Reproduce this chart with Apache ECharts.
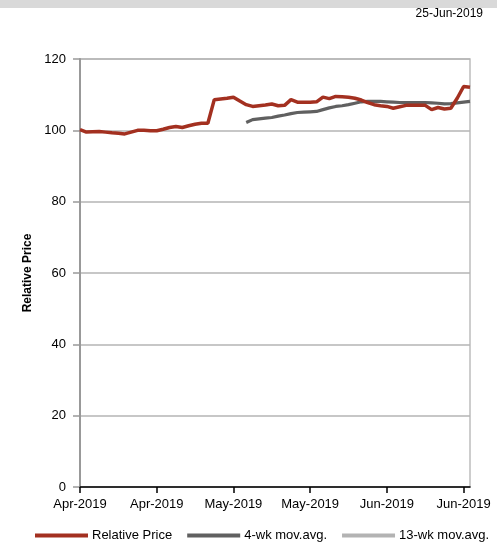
<!DOCTYPE html>
<html>
<head>
<meta charset="utf-8">
<script src="https://cdn.jsdelivr.net/npm/echarts@6/dist/echarts.min.js"></script>
<style>html,body{margin:0;padding:0;background:#fff;}#c{width:497px;height:550px;}</style>
</head>
<body>
<div id="c"></div>
<script>
var dates = [
"01-Apr-2019","02-Apr-2019","03-Apr-2019","04-Apr-2019","05-Apr-2019",
"08-Apr-2019","09-Apr-2019","10-Apr-2019","11-Apr-2019","12-Apr-2019",
"15-Apr-2019","16-Apr-2019","17-Apr-2019","18-Apr-2019","19-Apr-2019",
"22-Apr-2019","23-Apr-2019","24-Apr-2019","25-Apr-2019","26-Apr-2019",
"29-Apr-2019","30-Apr-2019","01-May-2019","02-May-2019","03-May-2019",
"06-May-2019","07-May-2019","08-May-2019","09-May-2019","10-May-2019",
"13-May-2019","14-May-2019","15-May-2019","16-May-2019","17-May-2019",
"20-May-2019","21-May-2019","22-May-2019","23-May-2019","24-May-2019",
"27-May-2019","28-May-2019","29-May-2019","30-May-2019","31-May-2019",
"03-Jun-2019","04-Jun-2019","05-Jun-2019","06-Jun-2019","07-Jun-2019",
"10-Jun-2019","11-Jun-2019","12-Jun-2019","13-Jun-2019","14-Jun-2019",
"17-Jun-2019","18-Jun-2019","19-Jun-2019","20-Jun-2019","21-Jun-2019",
"24-Jun-2019","25-Jun-2019"
];
var relativePrice = [
100.2,99.5,99.6,99.7,99.5,99.3,99.2,99.0,99.5,100.0,
100.0,99.9,99.9,100.3,100.8,101.1,100.8,101.3,101.7,102.0,
102.0,108.6,108.8,109.0,109.3,108.2,107.2,106.7,106.9,107.1,
107.4,106.9,107.0,108.6,107.9,107.9,107.9,108.0,109.3,108.9,
109.5,109.4,109.3,109.0,108.5,107.8,107.2,106.9,106.7,106.2,
106.6,107.0,107.0,107.0,107.0,105.8,106.4,106.0,106.2,109.0,
112.3,112.1
];
var ma4wk = [
null,null,null,null,null,null,null,null,null,null,
null,null,null,null,null,null,null,null,null,null,
null,null,null,null,null,null,102.2,103.0,103.2,103.4,
103.6,104.0,104.3,104.7,105.0,105.1,105.2,105.3,105.8,106.3,
106.7,106.9,107.2,107.6,108.0,108.1,108.1,108.1,108.0,107.9,
107.8,107.8,107.8,107.8,107.8,107.7,107.6,107.4,107.5,107.7,
107.9,108.1
];
var ma13wk = [];
var yTicks = {min:0, max:120, interval:20};
var dateLabel = "25-Jun-2019";

var chart = echarts.init(document.getElementById('c'), null, {renderer:'canvas'});
var font = "'Liberation Sans', Arial, sans-serif";
chart.setOption({
  animation:false,
  backgroundColor:'#fff',
  textStyle:{fontFamily:font},
  graphic:[
    {type:'rect', left:0, top:0, shape:{width:497, height:8}, style:{fill:'#d9d9d9'}},
    {type:'text', right:14, top:8, style:{text:dateLabel, fontSize:12, fill:'#000', fontFamily:font}}
  ],
  grid:{left:80, right:27, top:59, bottom:63, show:true, borderColor:'#bdbdbd', borderWidth:1.5},
  legend:{
    bottom:3, left:30, itemWidth:53, itemHeight:4, itemGap:15,
    icon:'rect',
    textStyle:{fontSize:13, color:'#000', fontFamily:font, padding:[0,0,0,-1]},
    data:['Relative Price','4-wk mov.avg.','13-wk mov.avg.']
  },
  xAxis:{
    type:'category', data:dates, boundaryGap:false,
    axisLine:{lineStyle:{color:'#000', width:1.5}},
    axisTick:{show:true, interval:11, length:6, inside:false, lineStyle:{color:'#000', width:1.5}},
    axisLabel:{interval:11, fontSize:13, color:'#000', margin:11, fontFamily:font,
      formatter:function(v){return v.substring(3);}},
    splitLine:{show:false}
  },
  yAxis:{
    type:'value', min:yTicks.min, max:yTicks.max, interval:yTicks.interval,
    name:'Relative Price', nameLocation:'middle', nameGap:46, nameRotate:90,
    nameTextStyle:{fontSize:12, fontWeight:'bold', color:'#000', fontFamily:font},
    axisLine:{show:true, lineStyle:{color:'#999', width:2}},
    axisTick:{show:true, length:7, lineStyle:{color:'#999', width:1.5}},
    axisLabel:{fontSize:13, color:'#000', margin:14, fontFamily:font},
    splitLine:{show:true, lineStyle:{color:'#b4b4b4', width:1.5}}
  },
  series:[
    {name:'Relative Price', type:'line', data:relativePrice, symbol:'none', z:3,
      lineStyle:{color:'#a33020', width:3.5}, itemStyle:{color:'#a33020'}},
    {name:'4-wk mov.avg.', type:'line', data:ma4wk, symbol:'none', z:2,
      lineStyle:{color:'#606060', width:3.2}, itemStyle:{color:'#606060'}},
    {name:'13-wk mov.avg.', type:'line', data:ma13wk, symbol:'none', z:1,
      lineStyle:{color:'#b3b3b3', width:3}, itemStyle:{color:'#b3b3b3'}}
  ]
});
</script>
</body>
</html>
